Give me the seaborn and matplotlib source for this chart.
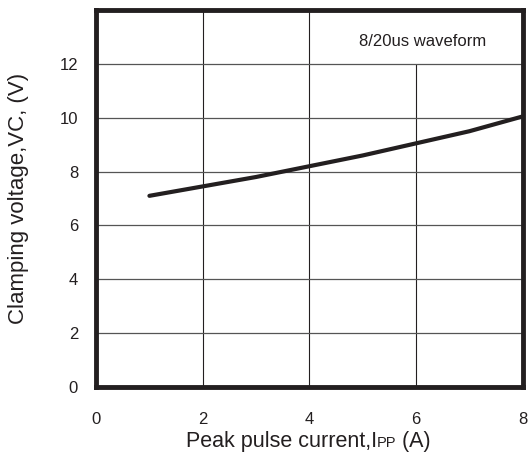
import matplotlib
matplotlib.use("Agg")
import matplotlib.pyplot as plt
import seaborn as sns
import pandas as pd
from matplotlib.offsetbox import TextArea, HPacker, AnchoredOffsetbox

# Dados
corrente = [1, 2, 3, 4, 5, 6, 7, 8]
tensao = [7.1, 7.45, 7.8, 8.2, 8.6, 9.05, 9.5, 10.05]
x_ticks = [0, 2, 4, 6, 8]
y_ticks = [0, 2, 4, 6, 8, 10, 12]

df = pd.DataFrame({'corrente': corrente, 'tensao': tensao})

sns.set_style("white")
plt.rcParams['font.family'] = ['Liberation Sans', 'DejaVu Sans']

cor = '#231f20'
fig = plt.figure(figsize=(5.28, 4.59), dpi=100)
ax = fig.add_axes([0.182, 0.157, 0.808, 0.821])

# grade manual (linha x=6 para no 12 por causa da legenda)
for xv in [2, 4]:
    ax.plot([xv, xv], [0, 14], color=cor, lw=0.8, zorder=1)
ax.plot([6, 6], [0, 12], color=cor, lw=0.8, zorder=1)
for yv in [2, 4, 6, 8, 10, 12]:
    ax.plot([0, 8], [yv, yv], color='#555555', lw=0.9, zorder=1)

sns.lineplot(data=df, x='corrente', y='tensao', ax=ax, color=cor, lw=3, zorder=3)

ax.set_xlim(0, 8)
ax.set_ylim(0, 14)
ax.set_xticks(x_ticks)
ax.set_yticks(y_ticks)
ax.tick_params(axis='x', length=0, pad=18, labelsize=12, colors=cor)
ax.tick_params(axis='y', length=0, pad=13, labelsize=12, colors=cor)
for s in ax.spines.values():
    s.set_linewidth(3.5)
    s.set_color(cor)

ax.set_xlabel('')
ax.set_ylabel('Clamping voltage,VC, (V)', fontsize=16, color=cor)
ax.yaxis.set_label_coords(-0.157, 0.5)

ax.text(6.12, 12.85, '8/20us waveform', fontsize=12, ha='center', va='center', color=cor)

# rótulo do eixo x com "PP" menor
partes = HPacker(children=[
    TextArea('Peak pulse current,I', textprops=dict(fontsize=15.5, color=cor)),
    TextArea('PP', textprops=dict(fontsize=10.5, color=cor)),
    TextArea(' (A)', textprops=dict(fontsize=15.5, color=cor)),
], align='baseline', pad=0, sep=0)
caixa = AnchoredOffsetbox(loc='center', child=partes, frameon=False,
                          bbox_to_anchor=(0.584, 0.038), bbox_transform=fig.transFigure)
fig.add_artist(caixa)

plt.savefig('out.png', dpi=100)
